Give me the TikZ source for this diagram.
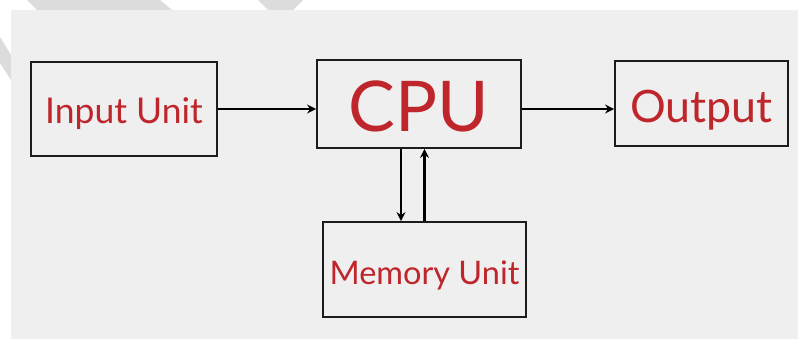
\documentclass[tikz,border=0pt]{standalone}
\usepackage{fontspec}
\setmainfont{Lato}
\usetikzlibrary{arrows.meta}
\definecolor{panel}{HTML}{EFEFEF}
\definecolor{stripe}{HTML}{DCDCDC}
\definecolor{txtred}{HTML}{BE262C}
\definecolor{edge}{HTML}{1C1C1C}
\tikzset{
  blockbox/.style={draw=edge, line width=1.8pt, fill=panel, text=txtred, inner sep=0pt, text depth=0pt, align=center},
  conn/.style={draw=black, line width=2.4pt, -{Stealth[length=9pt,width=9pt]}},
}
\begin{document}
\begin{tikzpicture}[x=1pt,y=-1pt]
\useasboundingbox (0,0) rectangle (798,339);
\fill[white] (0,0) rectangle (798,339);
% watermark fragments
\fill[stripe] (27,0) -- (160,0) -- (172,10) -- (37,10) -- cycle;
\fill[stripe] (258,0) -- (303,0) -- (293,10) -- (268,10) -- cycle;
\fill[stripe] (0,37) -- (11,55) -- (11,80) -- (0,63) -- cycle;
% panel
\fill[panel] (11,10) rectangle (798,339);
% blocks
\node[blockbox, minimum width=186pt, minimum height=94pt, text height=30pt, font=\fontsize{35.5}{38}\selectfont] (inp) at (124,109) {Input Unit};
\node[blockbox, minimum width=204pt, minimum height=88pt, text height=56pt, font=\fontsize{70}{74}\selectfont] (cpu) at (419,104) {CPU};
\node[blockbox, minimum width=173pt, minimum height=85pt, text height=38.4pt, font=\fontsize{44.7}{48}\selectfont] (out) at (701.5,103.5) {Output};
\node[blockbox, minimum width=203pt, minimum height=95pt, text height=29pt, font=\fontsize{32.5}{35}\selectfont] (mem) at (424.5,269.5) {Memory Unit};
% connectors
\draw[conn] (inp.east) -- (cpu.west |- inp.east);
\draw[conn] (cpu.east |- inp.east) -- (out.west |- inp.east);
\coordinate (dtop) at ([xshift=-18pt]cpu.south);
\draw[conn] (dtop) -- (dtop |- mem.north);
\draw[conn] (mem.north) -- (mem.north |- cpu.south);
\end{tikzpicture}
\end{document}
